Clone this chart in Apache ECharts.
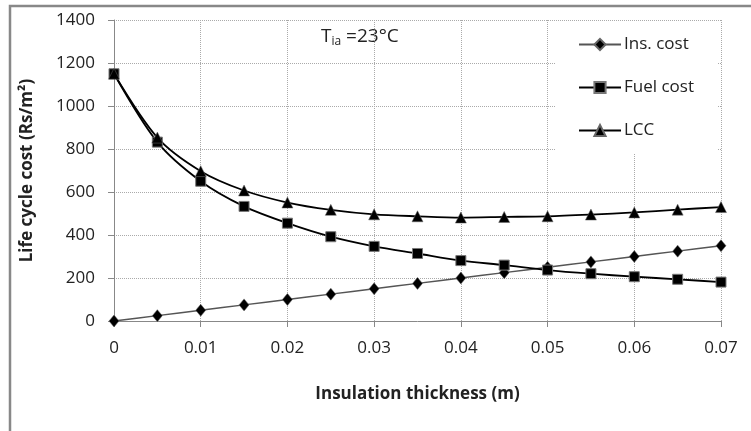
<!DOCTYPE html>
<html>
<head>
<meta charset="utf-8">
<script src="https://cdn.jsdelivr.net/npm/echarts@6/dist/echarts.min.js"></script>
<style>
    html, body { margin: 0; padding: 0; background: #fff; }
    #chart { width: 751px; height: 431px; }
</style>
</head>
<body>
<div id="chart"></div>
<script>
// insulation thickness (m)
var thickness = [0, 0.005, 0.01, 0.015, 0.02, 0.025, 0.03, 0.035, 0.04, 0.045, 0.05, 0.055, 0.06, 0.065, 0.07];
var insCost = [0, 25, 50, 75, 100, 125, 150, 175, 200, 225, 250, 275, 300, 325, 350];
var fuelCost = [1150, 832, 650, 533, 455, 392, 347, 314, 281, 260, 237, 220, 206, 194, 181];
var lccCost = [1150, 853, 697, 607, 551, 517, 496, 487, 481, 484, 487, 495, 505, 518, 530];
var seriesNames = ['Ins. cost', 'Fuel cost', 'LCC'];

var FONT = '"Open Sans", sans-serif';

function pairs(xs, ys) {
    var out = [], i;
    for (i = 0; i < xs.length; i++) {
        out.push([xs[i], ys[i]]);
    }
    return out;
}

var chart = echarts.init(document.getElementById('chart'));

var option = {
    animation: false,
    textStyle: { fontFamily: FONT },
    grid: {
        left: 114,
        right: 30,
        top: 20,
        bottom: 110
    },
    xAxis: {
        type: 'value',
        min: 0,
        max: 0.07,
        interval: 0.01,
        name: 'Insulation thickness (m)',
        nameLocation: 'middle',
        nameGap: 65,
        nameTextStyle: { color: '#222', fontSize: 17, fontWeight: 'bold', fontFamily: FONT },
        axisLine: { lineStyle: { color: '#888', width: 1 } },
        axisTick: { show: true, length: 6, lineStyle: { color: '#888' } },
        axisLabel: {
            color: '#222',
            fontSize: 17,
            margin: 19,
            formatter: function (v) { return String(+v.toFixed(2)); }
        },
        splitLine: { show: true, lineStyle: { color: '#aaa', type: [1, 1], width: 1 } }
    },
    yAxis: {
        type: 'value',
        min: 0,
        max: 1400,
        interval: 200,
        name: 'Life cycle cost (Rs/m²)',
        nameLocation: 'middle',
        nameGap: 78,
        nameTextStyle: { color: '#222', fontSize: 17, fontWeight: 'bold', fontFamily: FONT },
        axisLine: { show: true, lineStyle: { color: '#888', width: 1 } },
        axisTick: { show: true, length: 6, lineStyle: { color: '#888' } },
        axisLabel: {
            color: '#222',
            fontSize: 17,
            margin: 19,
            formatter: function (v) { return String(v); }
        },
        splitLine: { show: true, lineStyle: { color: '#aaa', type: [1, 1], width: 1 } }
    },
    legend: {
        orient: 'vertical',
        left: 556,
        top: 22,
        backgroundColor: '#fff',
        padding: [14, 24, 14, 22],
        itemWidth: 42,
        itemHeight: 14,
        itemGap: 26,
        textStyle: { color: '#222', fontSize: 17, lineHeight: 14, padding: [0, 0, 0, -2] },
        data: seriesNames
    },
    graphic: [
        {
            type: 'rect',
            silent: true,
            shape: { x: 10, y: 6, width: 800, height: 500 },
            style: { fill: 'none', stroke: '#888', lineWidth: 2.5 }
        },
        {
            type: 'text',
            left: 321,
            top: 27,
            style: {
                text: '{a|T}{b|ia}{a| =23°C}',
                rich: {
                    a: { fontSize: 19, fill: '#222', fontFamily: FONT },
                    b: { fontSize: 12, fill: '#222', fontFamily: FONT, padding: [11, 0, 0, 0] }
                }
            }
        }
    ],
    series: [
        {
            name: seriesNames[0],
            type: 'line',
            smooth: 0.3,
            symbol: 'diamond',
            symbolSize: [10, 12],
            lineStyle: { color: '#555', width: 1.5 },
            itemStyle: { color: '#000', borderColor: '#666', borderWidth: 0.5 },
            data: pairs(thickness, insCost)
        },
        {
            name: seriesNames[1],
            type: 'line',
            smooth: 0.3,
            symbol: 'rect',
            symbolSize: 10,
            lineStyle: { color: '#000', width: 1.8 },
            itemStyle: { color: '#000', borderColor: '#777', borderWidth: 1 },
            data: pairs(thickness, fuelCost)
        },
        {
            name: seriesNames[2],
            type: 'line',
            smooth: 0.3,
            symbol: 'triangle',
            symbolSize: 11,
            lineStyle: { color: '#000', width: 1.8 },
            itemStyle: { color: '#000', borderColor: '#666', borderWidth: 0.5 },
            data: pairs(thickness, lccCost)
        }
    ]
};

chart.setOption(option);
</script>
</body>
</html>
